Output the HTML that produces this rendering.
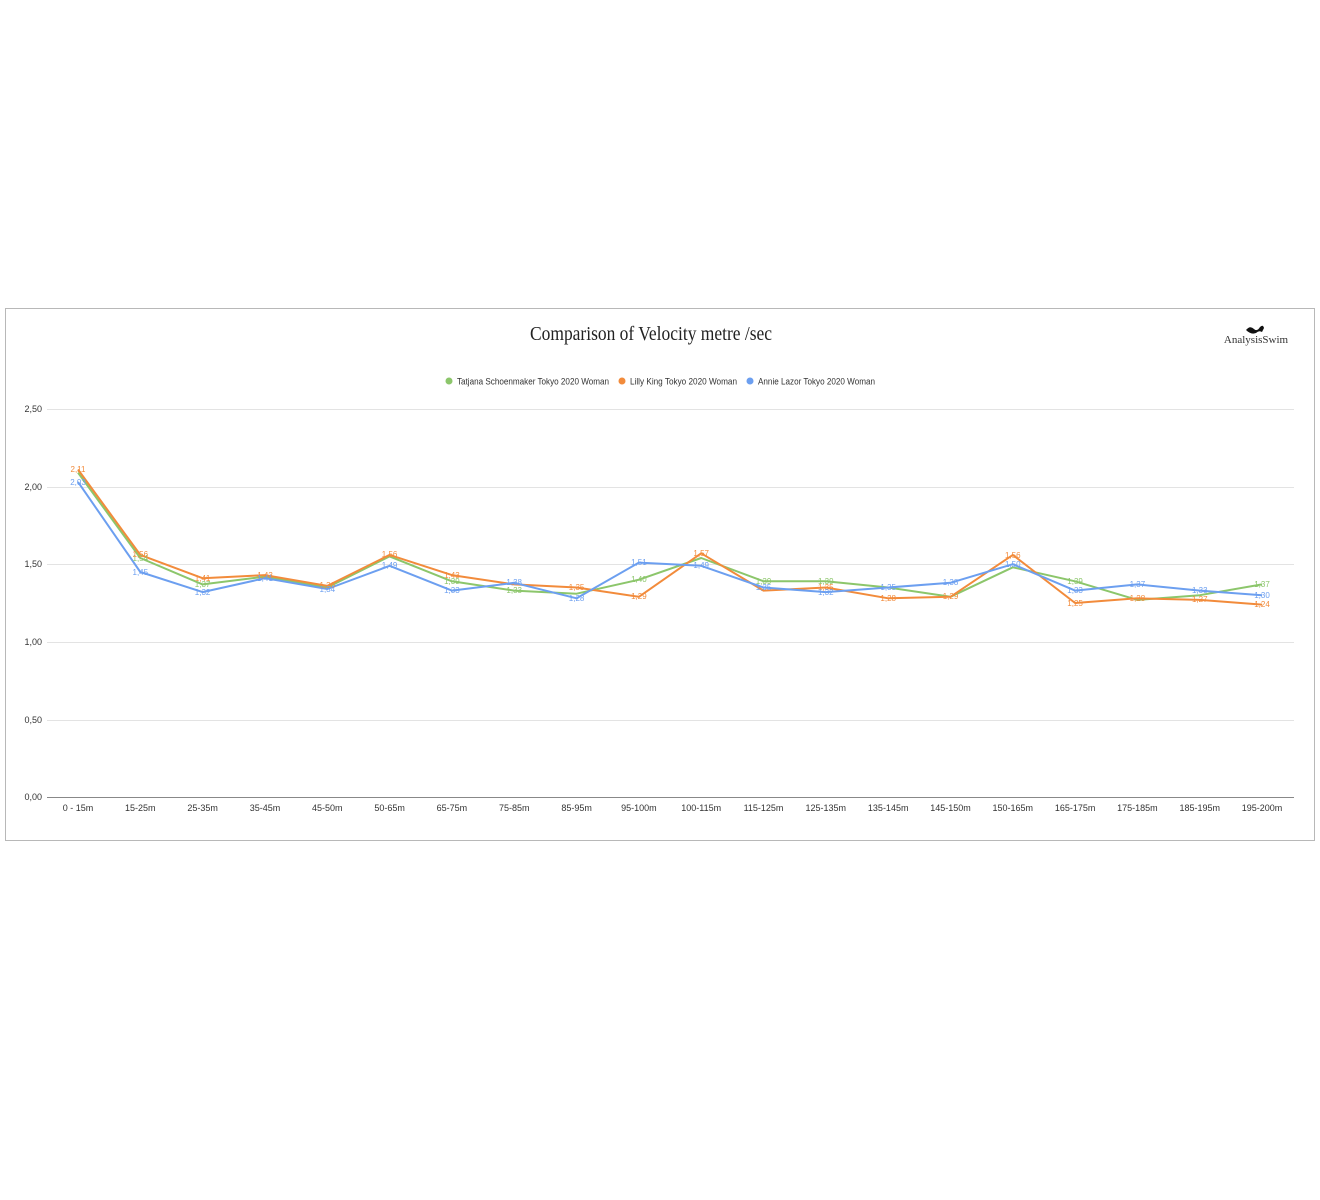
<!DOCTYPE html>
<html><head><meta charset="utf-8"><style>html,body{margin:0;padding:0;background:#fff;}svg{display:block}</style></head>
<body>
<svg width="1320" height="1200" viewBox="0 0 1320 1200" xmlns="http://www.w3.org/2000/svg" font-family="Liberation Sans, sans-serif">
<rect x="0" y="0" width="1320" height="1200" fill="#fff"/>
<rect x="5.5" y="308.5" width="1309" height="532" fill="#fff" stroke="#b8b8b8" stroke-width="1"/>
<text x="530" y="340" font-family="Liberation Serif, serif" font-size="20" fill="#222" textLength="242" lengthAdjust="spacingAndGlyphs">Comparison of Velocity metre /sec</text>
<text x="1256" y="343" text-anchor="middle" font-family="Liberation Serif, serif" font-size="11" fill="#333">AnalysisSwim</text>
<path d="M1246 330 q4 -5 8 -1 q3 3 6 -2 q3 -3 4 1 l-2 4 q-3 -2 -6 1 q-5 2 -10 -3z" fill="#111"/>
<g font-size="9" fill="#333">
<circle cx="449" cy="381" r="3.5" fill="#8cc66b"/><text x="457" y="384.5" textLength="152" lengthAdjust="spacingAndGlyphs">Tatjana Schoenmaker Tokyo 2020 Woman</text>
<circle cx="622" cy="381" r="3.5" fill="#f28b3b"/><text x="630" y="384.5" textLength="107" lengthAdjust="spacingAndGlyphs">Lilly King Tokyo 2020 Woman</text>
<circle cx="750" cy="381" r="3.5" fill="#6c9ff0"/><text x="758" y="384.5" textLength="117" lengthAdjust="spacingAndGlyphs">Annie Lazor Tokyo 2020 Woman</text>
</g>
<g stroke="#e3e3e3" stroke-width="1">
<line x1="47" y1="409.5" x2="1294" y2="409.5"/>
<line x1="47" y1="487.5" x2="1294" y2="487.5"/>
<line x1="47" y1="564.5" x2="1294" y2="564.5"/>
<line x1="47" y1="642.5" x2="1294" y2="642.5"/>
<line x1="47" y1="720.5" x2="1294" y2="720.5"/>
</g>
<line x1="47" y1="797.5" x2="1294" y2="797.5" stroke="#888" stroke-width="1"/>
<g font-size="9" fill="#333" text-anchor="end">
<text x="42" y="412">2,50</text><text x="42" y="490">2,00</text><text x="42" y="567">1,50</text><text x="42" y="645">1,00</text><text x="42" y="723">0,50</text><text x="42" y="800">0,00</text>
</g>
<g font-size="9" fill="#333" text-anchor="middle">
<text x="78" y="811">0 - 15m</text><text x="140.3" y="811">15-25m</text><text x="202.6" y="811">25-35m</text><text x="265" y="811">35-45m</text><text x="327.3" y="811">45-50m</text><text x="389.6" y="811">50-65m</text><text x="451.9" y="811">65-75m</text><text x="514.2" y="811">75-85m</text><text x="576.6" y="811">85-95m</text><text x="638.9" y="811">95-100m</text><text x="701.2" y="811">100-115m</text><text x="763.5" y="811">115-125m</text><text x="825.8" y="811">125-135m</text><text x="888.2" y="811">135-145m</text><text x="950.5" y="811">145-150m</text><text x="1012.8" y="811">150-165m</text><text x="1075.1" y="811">165-175m</text><text x="1137.4" y="811">175-185m</text><text x="1199.8" y="811">185-195m</text><text x="1262" y="811">195-200m</text>
</g>
<g fill="none" stroke-width="2" stroke-linejoin="round">
<polyline stroke="#8cc66b" points="78,472.6 140.3,558 202.6,584.4 265,576.6 327.3,587.5 389.6,556.4 451.9,581.3 514.2,590.6 576.6,593.7 638.9,579.7 701.2,558 763.5,581.3 825.8,581.3 888.2,587.5 950.5,596.8 1012.8,567.3 1075.1,581.3 1137.4,599.9 1199.8,595.2 1262,584.4"/>
<polyline stroke="#f28b3b" points="78,469.5 140.3,554.9 202.6,578.2 265,575.1 327.3,585.9 389.6,554.9 451.9,575.1 514.2,584.4 576.6,587.5 638.9,596.8 701.2,553.3 763.5,590.6 825.8,587.5 888.2,598.3 950.5,596.8 1012.8,554.9 1075.1,603 1137.4,598.3 1199.8,599.9 1262,604.6"/>
<polyline stroke="#6c9ff0" points="78,481.9 140.3,572 202.6,592.1 265,578.2 327.3,589 389.6,565.8 451.9,590.6 514.2,582.8 576.6,598.3 638.9,562.6 701.2,565.8 763.5,587.5 825.8,592.1 888.2,587.5 950.5,582.8 1012.8,564.2 1075.1,590.6 1137.4,584.4 1199.8,590.6 1262,595.2"/>
</g>
<g font-size="8" text-anchor="middle">
<g fill="#8cc66b">
<text x="140.3" y="561">1,54</text><text x="202.6" y="587">1,37</text><text x="451.9" y="584">1,39</text><text x="514.2" y="593">1,33</text><text x="638.9" y="582">1,40</text><text x="763.5" y="584">1,39</text><text x="825.8" y="584">1,39</text><text x="1075.1" y="584">1,39</text><text x="1262" y="587">1,37</text>
</g>
<g fill="#f28b3b">
<text x="78" y="472">2,11</text><text x="140.3" y="557">1,56</text><text x="202.6" y="581">1,41</text><text x="265" y="578">1,43</text><text x="327.3" y="588">1,36</text><text x="389.6" y="557">1,56</text><text x="451.9" y="578">1,43</text><text x="576.6" y="590">1,35</text><text x="638.9" y="599">1,29</text><text x="701.2" y="556">1,57</text><text x="825.8" y="590">1,35</text><text x="888.2" y="601">1,28</text><text x="950.5" y="599">1,29</text><text x="1012.8" y="558">1,56</text><text x="1075.1" y="606">1,25</text><text x="1137.4" y="601">1,28</text><text x="1199.8" y="602">1,27</text><text x="1262" y="607">1,24</text>
</g>
<g fill="#6c9ff0">
<text x="78" y="485">2,03</text><text x="140.3" y="575">1,45</text><text x="202.6" y="595">1,32</text><text x="265" y="581">1,41</text><text x="327.3" y="592">1,34</text><text x="389.6" y="568">1,49</text><text x="451.9" y="593">1,33</text><text x="514.2" y="585">1,38</text><text x="576.6" y="601">1,28</text><text x="638.9" y="565">1,51</text><text x="701.2" y="568">1,49</text><text x="763.5" y="590">1,35</text><text x="825.8" y="595">1,32</text><text x="888.2" y="590">1,35</text><text x="950.5" y="585">1,38</text><text x="1012.8" y="567">1,50</text><text x="1075.1" y="593">1,33</text><text x="1137.4" y="587">1,37</text><text x="1199.8" y="593">1,33</text><text x="1262" y="598">1,30</text>
</g>
</g>
</svg>
</body></html>
